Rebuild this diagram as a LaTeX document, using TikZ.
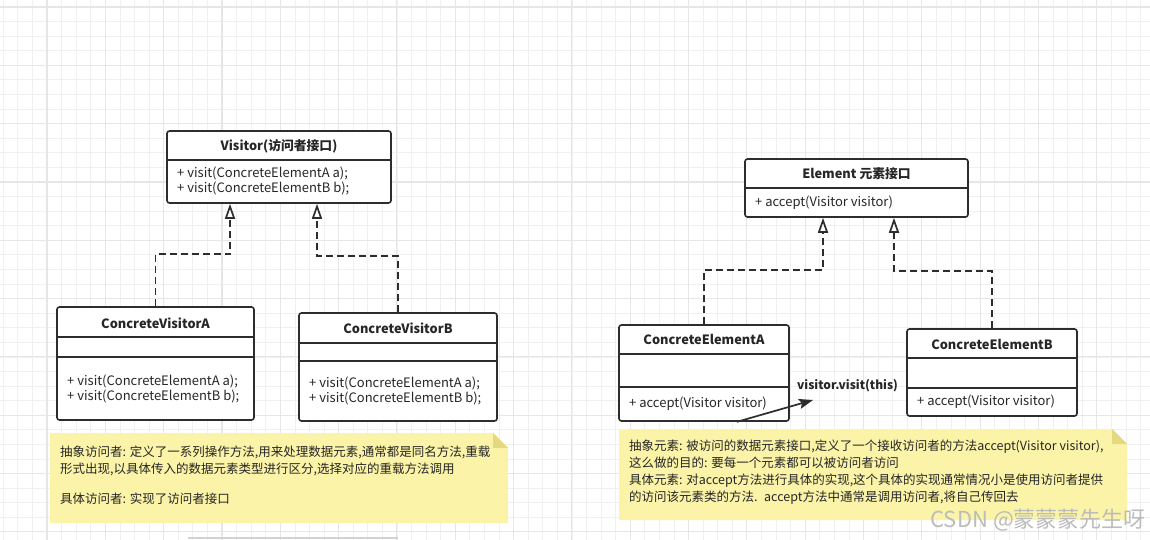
\documentclass[tikz,border=0pt]{standalone}
\usepackage{fontspec}
\setmainfont{Noto Sans CJK SC}
\usetikzlibrary{arrows.meta}

\definecolor{gridminor}{RGB}{240,240,240}
\definecolor{gridmajor}{RGB}{230,230,230}
\definecolor{umlline}{RGB}{45,45,45}
\definecolor{notefill}{RGB}{251,244,168}
\definecolor{notefold}{RGB}{228,216,128}
\definecolor{marktext}{RGB}{188,188,188}

\tikzset{
  classbox/.style={draw=umlline, line width=1.6pt, rounded corners=2.5pt, fill=white, inner sep=0pt},
  classname/.style={font=\fontsize{12.8}{15}\selectfont\bfseries, text=black!85, inner sep=0pt},
  classop/.style={font=\fontsize{13}{15}\selectfont, text=black!85, align=left, anchor=west, inner sep=0pt},
  divider/.style={draw=umlline, line width=1.3pt},
  realize/.style={draw=umlline, line width=1.7pt, dash pattern=on 7pt off 4pt,
    -{Triangle[open, length=15pt, width=10pt, fill=white]}},
  call/.style={draw=umlline, line width=1.7pt, -{Stealth[length=14pt, width=10pt, inset=2.5pt]}},
  notetext/.style={font=\fontsize{12.5}{17}\selectfont, text=black!85, align=left, anchor=north west, inner sep=0pt},
}

\begin{document}
\begin{tikzpicture}[x=1pt, y=-1pt]
  \fill [white] (0,0) rectangle (1150,540);
  \useasboundingbox (0,0) rectangle (1150,540);
  \foreach \i in {0,...,78}
    \draw [gridminor, line width=0.8pt] ({3.3+\i*14.58},0) -- ++(0,540);
  \foreach \j in {0,...,36}
    \draw [gridminor, line width=0.8pt] (0,{7+\j*14.58}) -- ++(1150,0);
  \foreach \i in {0,...,18}
    \draw [gridmajor, line width=1.1pt] ({47+\i*58.32},0) -- ++(0,540);
  \foreach \j in {0,...,9}
    \draw [gridmajor, line width=1.1pt] (0,{7+\j*58.32}) -- ++(1150,0);

  % visitor side
  \node [classbox, minimum width=224, minimum height=72] (visitor) at (279,167) {};
  \draw [divider] (visitor.west |- 0,160) -- (visitor.east |- 0,160);
  \node [classname] (visitor-name) at (279,146) {Visitor(访问者接口)};
  \node [classop] (visitor-ops) at (177,180.5) {+ visit(ConcreteElementA a);\\+ visit(ConcreteElementB b);};

  \node [classbox, minimum width=197, minimum height=113] (cva) at (155.5,363.5) {};
  \draw [divider] (cva.west |- 0,337) -- (cva.east |- 0,337);
  \draw [divider] (cva.west |- 0,357) -- (cva.east |- 0,357);
  \node [classname] (cva-name) at (155.5,323) {ConcreteVisitorA};
  \node [classop] (cva-ops) at (67,388.5) {+ visit(ConcreteElementA a);\\+ visit(ConcreteElementB b);};

  \node [classbox, minimum width=198, minimum height=108] (cvb) at (398,367) {};
  \draw [divider] (cvb.west |- 0,343) -- (cvb.east |- 0,343);
  \draw [divider] (cvb.west |- 0,361) -- (cvb.east |- 0,361);
  \node [classname] (cvb-name) at (398,328) {ConcreteVisitorB};
  \node [classop] (cvb-ops) at (309,390.5) {+ visit(ConcreteElementA a);\\+ visit(ConcreteElementB b);};

  \coordinate (v1) at ([xshift=-49pt]visitor.south);
  \coordinate (v2) at ([xshift=38pt]visitor.south);
  \draw [realize] (cva.north) -- ++(0,-52) -| (v1);
  \draw [realize] (cvb.north) -- ++(0,-56) -| (v2);

  % element side
  \node [classbox, minimum width=223, minimum height=58] (element) at (856.5,188) {};
  \draw [divider] (element.west |- 0,188) -- (element.east |- 0,188);
  \node [classname] (element-name) at (856.5,174) {Element 元素接口};
  \node [classop] (element-ops) at (755,203) {+ accept(Visitor visitor)};

  \node [classbox, minimum width=170, minimum height=96] (cea) at (704,373) {};
  \draw [divider] (cea.west |- 0,354) -- (cea.east |- 0,354);
  \draw [divider] (cea.west |- 0,387) -- (cea.east |- 0,387);
  \node [classname] (cea-name) at (704,339) {ConcreteElementA};
  \node [classop] (cea-ops) at (629,404) {+ accept(Visitor visitor)};

  \node [classbox, minimum width=170, minimum height=87] (ceb) at (992,372.5) {};
  \draw [divider] (ceb.west |- 0,358) -- (ceb.east |- 0,358);
  \draw [divider] (ceb.west |- 0,388) -- (ceb.east |- 0,388);
  \node [classname] (ceb-name) at (992,344) {ConcreteElementB};
  \node [classop] (ceb-ops) at (917,402) {+ accept(Visitor visitor)};

  \coordinate (e1) at ([xshift=-33.5pt]element.south);
  \coordinate (e2) at ([xshift=37.5pt]element.south);
  \draw [realize] (cea.north) -- ++(0,-54) -| (e1);
  \draw [realize] (ceb.north) -- ++(0,-57) -| (e2);

  \node [classname, anchor=west, font=\fontsize{12}{14}\selectfont\bfseries] (call-label) at (797,386) {visitor.visit(this)};
  \coordinate (callend) at (813,400);
  \draw [call] ([xshift=33pt]cea.south) -- (callend);

  % notes
  \fill [notefill] (50,433) -- (493,433) -- (508,448) -- (508,523) -- (50,523) -- cycle;
  \fill [notefold] (493,433) -- (493,448) -- (508,448) -- cycle;
  \node [notetext] (note-visitor) at (60,445.5) {抽象访问者: 定义了一系列操作方法,用来处理数据元素,通常都是同名方法,重载\\形式出现,以具体传入的数据元素类型进行区分,选择对应的重载方法调用\\[13pt]具体访问者: 实现了访问者接口};

  \fill [notefill] (619,429) -- (1112,429) -- (1127,444) -- (1127,520) -- (619,520) -- cycle;
  \fill [notefold] (1112,429) -- (1112,444) -- (1127,444) -- cycle;
  \node [notetext] (note-element) at (629,439.5) {抽象元素: 被访问的数据元素接口,定义了一个接收访问者的方法accept(Visitor visitor),\\这么做的目的: 要每一个元素都可以被访问者访问\\具体元素: 对accept方法进行具体的实现,这个具体的实现通常情况小是使用访问者提供\\的访问该元素类的方法. \ accept方法中通常是调用访问者,将自己传回去};

  \node [anchor=east, inner sep=0pt, font=\fontsize{22}{22}\selectfont, text=marktext] (watermark) at (1146,520) {CSDN @蒙蒙蒙先生呀};
  \draw [gray!35, line width=2pt] (188,538) -- (398,538);
\end{tikzpicture}
\end{document}
